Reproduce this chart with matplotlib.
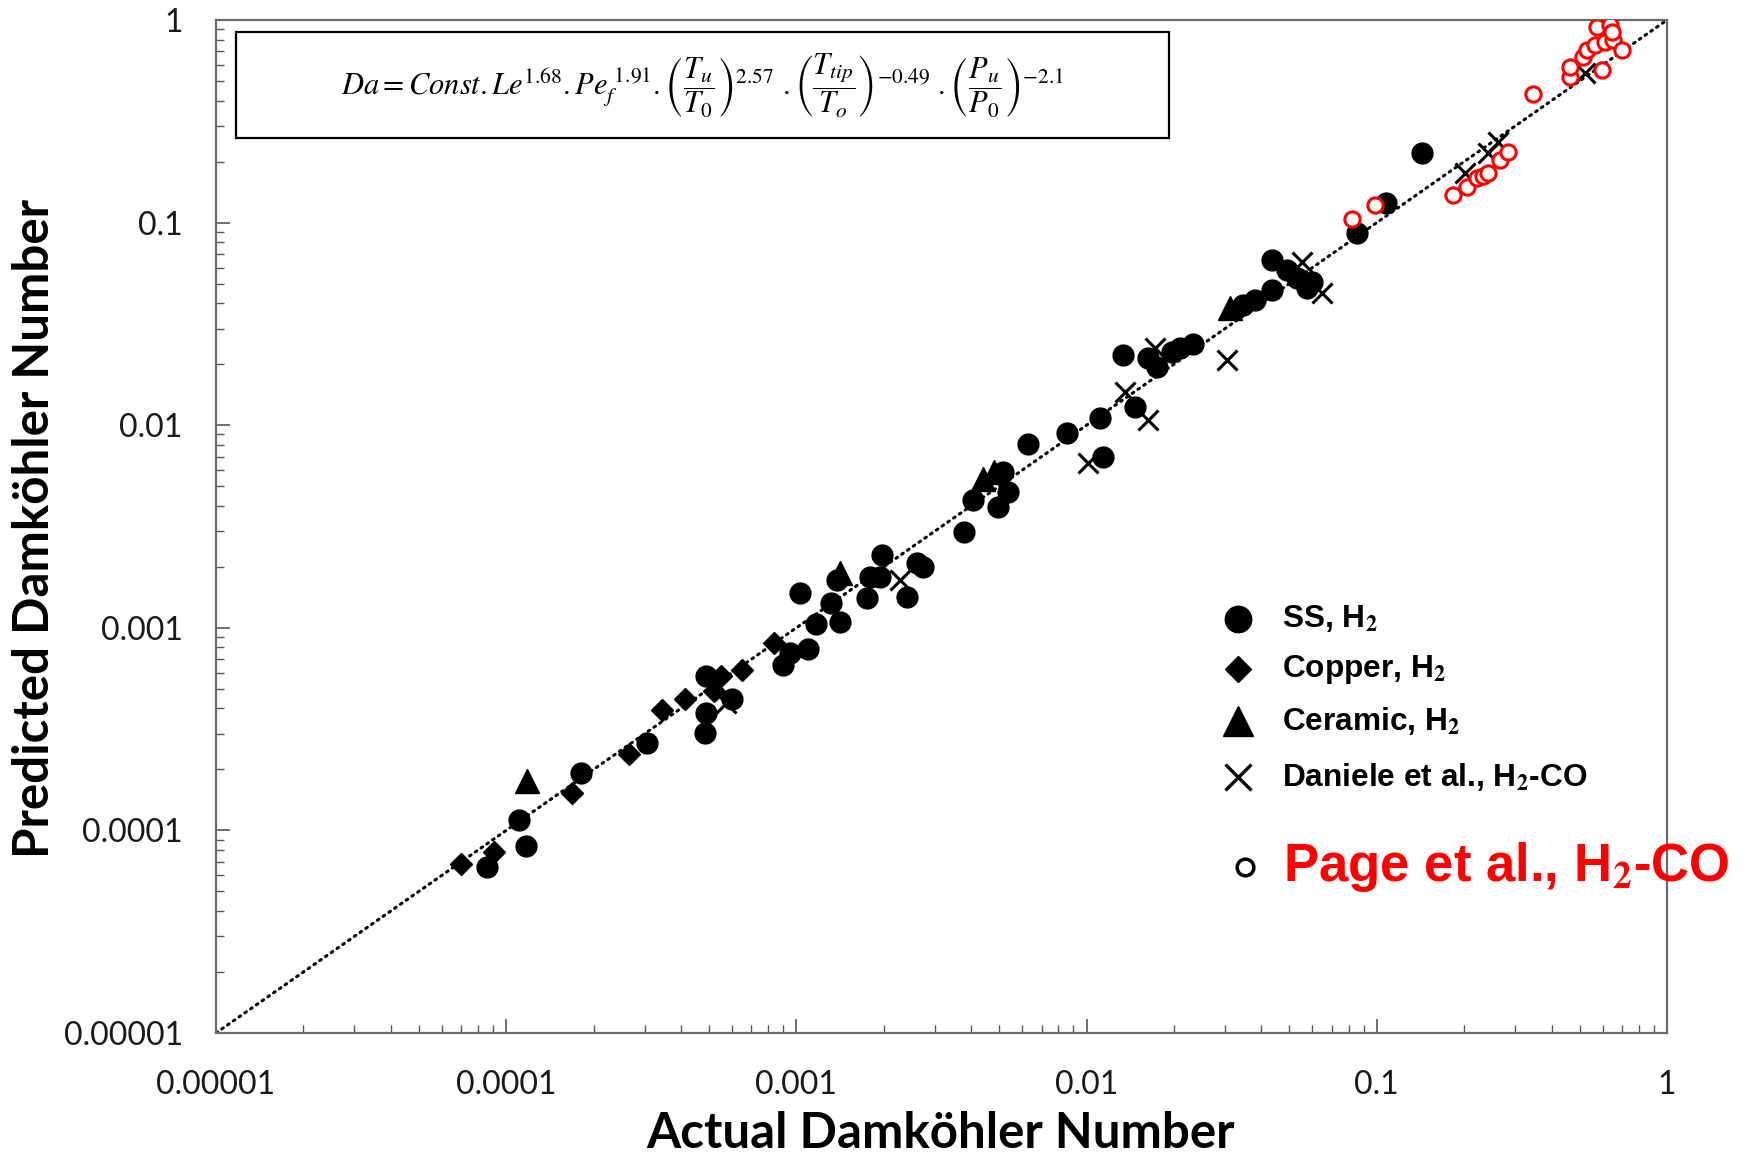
import matplotlib
matplotlib.use("Agg")
import matplotlib.pyplot as plt
from matplotlib.ticker import LogLocator, NullFormatter, FixedLocator

plt.rcParams['mathtext.fontset'] = 'stix'

# Stainless steel burner, hydrogen
ss_actual = [8.6e-5, 1.17e-4, 1.11e-4, 1.81e-4, 3.05e-4, 4.84e-4, 4.88e-4, 4.9e-4, 6.0e-4,
             9.0e-4, 9.5e-4, 1.1e-3, 1.17e-3, 1.41e-3, 1.32e-3, 1.03e-3, 1.38e-3, 1.75e-3,
             1.79e-3, 1.94e-3, 2.4e-3, 1.97e-3, 2.6e-3, 2.73e-3, 3.79e-3, 4.05e-3, 4.97e-3,
             5.37e-3, 5.17e-3, 6.3e-3, 8.53e-3, 0.0111, 0.0114, 0.0147, 0.0133, 0.0163,
             0.0175, 0.0197, 0.021, 0.0233, 0.0347, 0.038, 0.0435, 0.0435, 0.049, 0.053,
             0.0573, 0.0596, 0.0853, 0.1076, 0.143]
ss_pred = [6.6e-5, 8.4e-5, 1.125e-4, 1.91e-4, 2.69e-4, 3.01e-4, 3.78e-4, 5.8e-4, 4.43e-4,
           6.55e-4, 7.5e-4, 7.9e-4, 1.05e-3, 1.07e-3, 1.32e-3, 1.48e-3, 1.72e-3, 1.4e-3,
           1.79e-3, 1.79e-3, 1.42e-3, 2.29e-3, 2.08e-3, 2.0e-3, 2.98e-3, 4.27e-3, 3.96e-3,
           4.7e-3, 5.9e-3, 8.1e-3, 9.12e-3, 0.0108, 0.0070, 0.0123, 0.0222, 0.0214,
           0.0194, 0.0231, 0.024, 0.0253, 0.0392, 0.0415, 0.0465, 0.0654, 0.0583, 0.053,
           0.0474, 0.051, 0.0889, 0.1245, 0.22]

# Copper burner, hydrogen
cu_actual = [7.0e-5, 9.1e-5, 1.69e-4, 2.65e-4, 3.43e-4, 4.13e-4, 5.2e-4, 5.5e-4, 6.5e-4, 8.4e-4]
cu_pred = [6.8e-5, 7.85e-5, 1.53e-4, 2.38e-4, 3.93e-4, 4.45e-4, 4.9e-4, 5.8e-4, 6.2e-4, 8.4e-4]

# Ceramic burner, hydrogen
ce_actual = [1.18e-4, 1.41e-3, 4.4e-3, 4.78e-3, 0.0312]
ce_pred = [1.75e-4, 1.86e-3, 5.4e-3, 5.9e-3, 0.0377]

# Daniele et al., H2-CO
dan_actual = [5.7e-4, 2.28e-3, 0.01013, 0.01355, 0.0163, 0.0172, 0.0304, 0.0551, 0.0645,
              0.2014, 0.242, 0.262, 0.522]
dan_pred = [4.25e-4, 1.72e-3, 0.00649, 0.01463, 0.0106, 0.024, 0.021, 0.0641, 0.0448,
            0.175, 0.22, 0.251, 0.546]

# Page et al., H2-CO
page_actual = [0.0819, 0.0986, 0.1836, 0.204, 0.222, 0.232, 0.242, 0.2655, 0.284, 0.346,
               0.463, 0.463, 0.515, 0.529, 0.565, 0.596, 0.611, 0.653, 0.698, 0.573,
               0.637, 0.644]
page_pred = [0.104, 0.122, 0.1368, 0.150, 0.1655, 0.170, 0.175, 0.2037, 0.224, 0.431,
             0.525, 0.588, 0.659, 0.711, 0.753, 0.566, 0.782, 0.797, 0.711, 0.927,
             0.945, 0.875]

tick_values = [1e-5, 1e-4, 1e-3, 1e-2, 1e-1, 1]
tick_labels = ["0.00001", "0.0001", "0.001", "0.01", "0.1", "1"]
legend_labels = [r"SS, H$_\mathbf{2}$", r"Copper, H$_\mathbf{2}$", r"Ceramic, H$_\mathbf{2}$",
                 r"Daniele et al., H$_\mathbf{2}$-CO"]
page_label = r"Page et al., H$_\mathbf{2}$-CO"

W, H = 1748, 1156
fig = plt.figure(figsize=(W / 100, H / 100), dpi=100)
ax = fig.add_axes([216 / W, 1 - 1033 / H, (1667 - 216) / W, (1033 - 20) / H])
ax.set_xscale("log")
ax.set_yscale("log")
ax.set_xlim(1e-5, 1)
ax.set_ylim(1e-5, 1)

# parity line
ax.plot([1e-5, 1], [1e-5, 1], color="black", linestyle=(0, (0.6, 1.7)), lw=2.2,
        dash_capstyle="round", zorder=1)

ax.plot(cu_actual, cu_pred, linestyle="none", marker="D", ms=11, color="black", zorder=3)
ax.plot(ss_actual, ss_pred, linestyle="none", marker="o", ms=15, color="black", zorder=3)
ax.plot(ce_actual, ce_pred, linestyle="none", marker="^", ms=17.5, color="black", zorder=3)
ax.plot(dan_actual, dan_pred, linestyle="none", marker="x", ms=14.5, mew=2.2,
        color="black", zorder=4)
ax.plot(page_actual, page_pred, linestyle="none", marker="o", ms=11, mew=2.2,
        mfc="white", mec="red", zorder=5)

ax.xaxis.set_major_locator(FixedLocator(tick_values))
ax.yaxis.set_major_locator(FixedLocator(tick_values))
ax.set_xticklabels(tick_labels)
ax.set_yticklabels(tick_labels)
ax.xaxis.set_minor_locator(LogLocator(base=10, subs=range(2, 10), numticks=20))
ax.yaxis.set_minor_locator(LogLocator(base=10, subs=range(2, 10), numticks=20))
ax.xaxis.set_minor_formatter(NullFormatter())
ax.yaxis.set_minor_formatter(NullFormatter())
ax.tick_params(which="major", direction="in", length=10, width=1.2, color="#555555",
               labelsize=23, labelcolor="#1a1a1a")
ax.tick_params(which="minor", direction="in", length=6, width=1.0, color="#555555")
ax.tick_params(axis="x", which="major", pad=27)
ax.tick_params(axis="y", which="major", pad=24)
for lab in ax.get_xticklabels() + ax.get_yticklabels():
    lab.set_family(["Lato", "DejaVu Sans"])

for sp in ax.spines.values():
    sp.set_color("#6b6b6b")
    sp.set_linewidth(1.6)

label_font = dict(family=["Lato", "DejaVu Sans"], weight="bold", fontsize=35.5)
fig.text(941 / W, 1 - 1134 / H, "Actual Damköhler Number", ha="center", va="center",
         **label_font)
fig.text(35 / W, 1 - 528 / H, "Predicted Damköhler Number", ha="center", va="center",
         rotation=90, **label_font)

# correlation box
box = plt.Rectangle((236 / W, 1 - 138 / H), (1169 - 236) / W, (138 - 32) / H,
                    transform=fig.transFigure, fill=True, facecolor="white",
                    edgecolor="black", lw=1.6, zorder=6)
fig.add_artist(box)
eq = (r"$Da = Const.Le^{1.68}.Pe_f^{\ 1.91}.\left(\dfrac{T_u}{T_0}\right)^{2.57}"
      r"\ .\left(\dfrac{T_{tip}}{T_o}\right)^{-0.49}\ .\left(\dfrac{P_u}{P_0}\right)^{-2.1}$")
fig.text(702 / W, 1 - 86 / H, eq, ha="center", va="center", fontsize=22, zorder=7)

# key
plt.rcParams['mathtext.bf'] = 'Liberation Sans:bold'
key_font = dict(family=["Liberation Sans", "DejaVu Sans"], weight="bold", fontsize=22.8)
key_rows = [619, 669, 721, 777]
key_markers = [dict(marker="o", ms=19), dict(marker="D", ms=13),
               dict(marker="^", ms=22), dict(marker="x", ms=19, mew=2.4)]
for yy, lab, mk in zip(key_rows, legend_labels, key_markers):
    fig.add_artist(plt.Line2D([1238 / W], [1 - yy / H], color="black", linestyle="none",
                              transform=fig.transFigure, **mk))
    fig.text(1282 / W, 1 - yy / H, lab, ha="left", va="center", **key_font)
fig.add_artist(plt.Line2D([1245 / W], [1 - 867 / H], color="black", linestyle="none",
                          marker="o", ms=12, mew=2.5, mfc="white",
                          transform=fig.transFigure))
fig.text(1283 / W, 1 - 867 / H, page_label, ha="left", va="center", color="red",
         family=["Liberation Sans", "DejaVu Sans"], weight="bold", fontsize=38)

fig.savefig("out.png", dpi=100)
